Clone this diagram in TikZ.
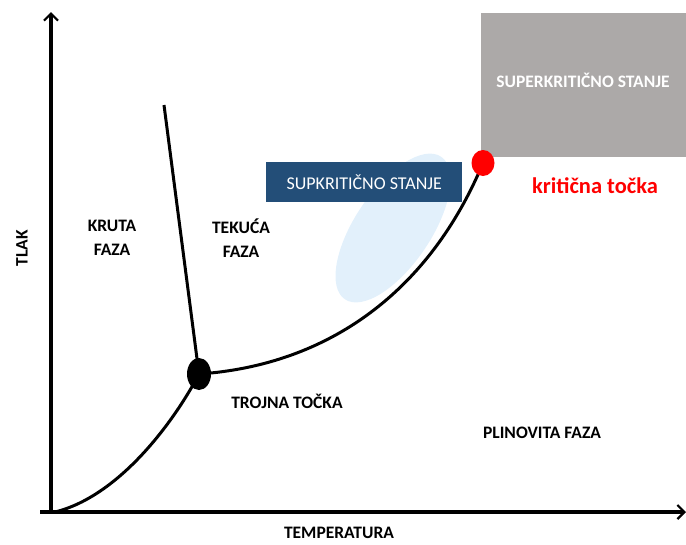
\documentclass[tikz,border=0pt]{standalone}
\usepackage{fontspec}
\setmainfont{Carlito}
\usetikzlibrary{shapes.geometric,arrows.meta}
\definecolor{boxgrey}{HTML}{ACA9A8}
\definecolor{boxblue}{HTML}{234E78}
\definecolor{hazeblue}{HTML}{E2F0FB}
\definecolor{critred}{HTML}{FF0000}
\tikzset{
  axis/.style={line width=3.2pt, -{Straight Barb[length=7pt,width=14pt,line width=2.2pt]}},
  phaseline/.style={line width=3pt},
  lbl/.style={font=\fontsize{17.5}{24}\selectfont\bfseries, align=center, text=black},
}
\begin{document}
\begin{tikzpicture}[x=1pt,y=-1pt]
\useasboundingbox (0,0) rectangle (686,544);
% light ellipse
\node[ellipse, fill=hazeblue, minimum width=172pt, minimum height=76pt, rotate=56, inner sep=0pt] (haze) at (393,228) {};
% grey box
\node[fill=boxgrey, minimum width=205pt, minimum height=144pt, inner sep=0pt, anchor=north west] (super) at (481,13) {};
\node[text=white, font=\fontsize{17.5}{20}\selectfont\bfseries] (supertext) at (583,80) {SUPERKRITIČNO STANJE};
% blue box
\node[fill=boxblue, minimum width=196pt, minimum height=40pt, inner sep=0pt, anchor=north west,
      text=white, font=\fontsize{18}{20}\selectfont] (sub) at (266,162) {SUPKRITIČNO STANJE};
% axes
\coordinate (O) at (51,512);
\coordinate (ytop) at (51,12);
\coordinate (xend) at (686,512);
\coordinate (xstart) at (40,512);
\draw[axis] (O) -- (ytop);
\draw[axis] (xstart) -- (xend);
% points
\coordinate (tp) at (199,374);
\coordinate (cp) at (483,163);
\coordinate (mtop) at (164,105);
\coordinate (sstart) at (55,512);
\draw[phaseline] (sstart) .. controls (120,496) and (175,420) .. (tp);
\draw[phaseline] (tp) .. controls (330,365) and (430,290) .. (cp);
\draw[phaseline] (mtop) -- (tp);
\node[ellipse, fill=black, minimum width=24pt, minimum height=32pt, inner sep=0pt] (triple) at (tp) {};
\node[ellipse, fill=critred, minimum width=23pt, minimum height=26pt, inner sep=0pt] (crit) at (cp) {};
% labels
\node[lbl] (kruta) at (112,238) {KRUTA\\FAZA};
\node[lbl] (tekuca) at (241,238) {TEKUĆA\\FAZA};
\node[lbl] (trojna) at (287,401) {TROJNA TOČKA};
\node[lbl] (plin) at (542,433) {PLINOVITA FAZA};
\node[lbl] (temp) at (339,533) {TEMPERATURA};
\node[lbl, rotate=90] (tlak) at (22,248) {TLAK};
\node[font=\fontsize{22.5}{24}\selectfont\bfseries, text=critred] (kt) at (595,186) {kritična točka};
\end{tikzpicture}
\end{document}
